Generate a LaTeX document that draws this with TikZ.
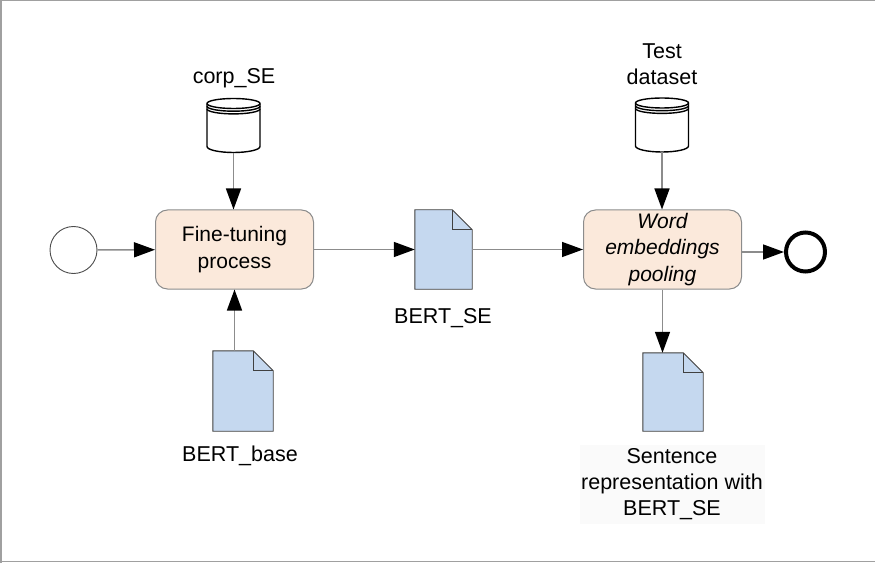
\documentclass[tikz,border=0pt]{standalone}
\usepackage{fontspec}
\setmainfont{Liberation Sans}
\usetikzlibrary{arrows.meta,calc}
\definecolor{taskfill}{RGB}{251,233,219}
\definecolor{docfill}{RGB}{197,216,239}
\definecolor{flowgray}{RGB}{140,140,140}
\definecolor{framegray}{RGB}{160,160,160}
\newcommand\mydoc[1]{%
  \draw[docline] let \p1=(#1.north west), \p2=(#1.south east) in
    (\x1,\y2) -- (\x1,\y1) -- (\x2-20pt,\y1) -- (\x2,\y1-20pt) -- (\x2,\y2) -- cycle;
  \draw[docline, fill=none] let \p1=(#1.north west), \p2=(#1.south east) in
    (\x2-20pt,\y1) -- (\x2-20pt,\y1-20pt) -- (\x2,\y1-20pt);}
\newcommand\mydb[1]{%
  \begin{scope}[shift={(#1.center)}]
    \draw[dbline, fill=white] (-26.5,22) -- (-26.5,-21)
      arc[start angle=180,end angle=360,x radius=26.5pt,y radius=6pt]
      -- (26.5,22)
      arc[start angle=0,end angle=180,x radius=26.5pt,y radius=5pt] -- cycle;
    \draw[dbline] (-26.5,22) arc[start angle=180,end angle=360,x radius=26.5pt,y radius=5pt];
    \draw[dbline] (-26.5,19.3) arc[start angle=180,end angle=360,x radius=26.5pt,y radius=5pt];
    \draw[dbline] (-26.5,16.6) arc[start angle=180,end angle=360,x radius=26.5pt,y radius=5pt];
  \end{scope}}
\begin{document}
\begin{tikzpicture}[x=1pt,y=1pt,
  txt/.style={font=\fontsize{21.5}{26}\selectfont, align=center, inner sep=0pt},
  task/.style={draw=flowgray, line width=1pt, fill=taskfill, rounded corners=12pt,
    minimum width=158pt, minimum height=79pt, align=center, inner sep=0pt,
    font=\fontsize{21}{26.5}\selectfont},
  holder/.style={draw=none, inner sep=0pt},
  docline/.style={draw=black!75, line width=0.9pt, fill=docfill},
  dbline/.style={draw=black, line width=1.4pt},
  flow/.style={draw=flowgray, line width=1.5pt,
    -{Triangle[length=21pt,width=15pt,color=black,fill=black]}}]
\useasboundingbox (0,0) rectangle (875,563);
% frame
\draw[framegray, line width=1.5pt] (0.75,0) -- (0.75,562.25) -- (875,562.25);
\draw[framegray, line width=1.5pt] (0,1.5) -- (875,1.5);
% nodes
\node[circle, draw=black!70, line width=0.9pt, minimum size=47pt, inner sep=0pt] (start) at (73.5,313) {};
\node[task] (t1) at (234.5,313.5) {Fine-tuning\\process};
\node[holder, minimum width=53pt, minimum height=54pt] (db1) at (233.5,437.5) {};
\node[txt] (l1) at (234,485) {corp\_SE};
\node[holder, minimum width=60pt, minimum height=80pt] (d1) at (243,172) {};
\node[txt] (l2) at (240,107) {BERT\_base};
\node[holder, minimum width=57pt, minimum height=79pt] (d2) at (443.5,313.5) {};
\node[txt] (l3) at (443,245) {BERT\_SE};
\node[task, font={\fontsize{21}{26.5}\selectfont\itshape}] (t2) at (662.5,313.5) {Word\\embeddings\\pooling};
\node[holder, minimum width=53pt, minimum height=54pt] (db2) at (662,438) {};
\node[txt] (l4) at (662,499) {Test\\dataset};
\node[circle, draw=black, line width=4pt, minimum size=39pt, inner sep=0pt] (end) at (805.5,311) {};
\node[holder, minimum width=60pt, minimum height=78pt] (d3) at (673,171) {};
\node[txt, fill=black!2, minimum width=185pt, minimum height=79pt] (l5) at (672,79) {Sentence\\representation with\\BERT\_SE};
% icons
\mydb{db1}
\mydb{db2}
\mydoc{d1}
\mydoc{d2}
\mydoc{d3}
% connectors
\draw[flow] (start) -- (t1);
\draw[flow] (db1.south) -- (db1.south |- t1.north);
\draw[flow] (t1.south |- d1.north) -- (t1.south);
\draw[flow] (t1) -- (d2);
\draw[flow] (d2) -- (t2);
\draw[flow] (db2.south) -- (db2.south |- t2.north);
\draw[flow] (t2.east |- end) -- (end);
\draw[flow] (t2.south) -- (t2.south |- d3.north);
\end{tikzpicture}
\end{document}
